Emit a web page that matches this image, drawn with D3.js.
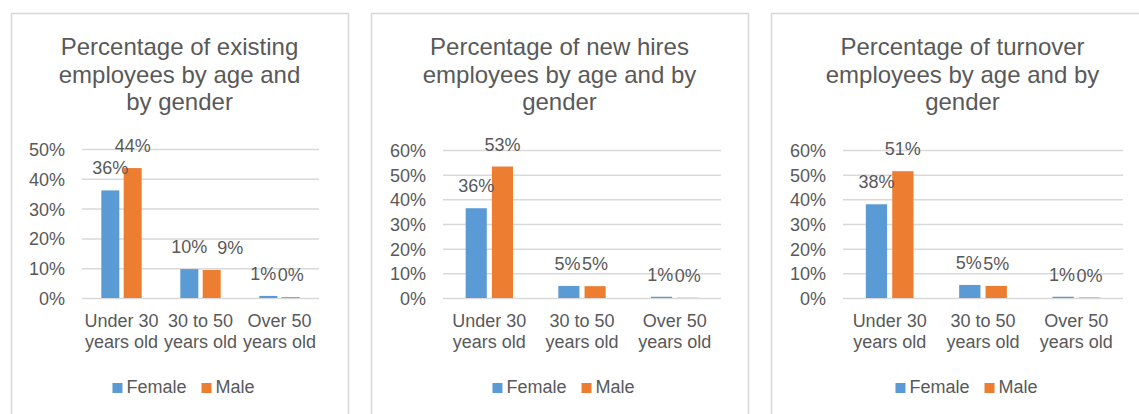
<!DOCTYPE html>
<html><head><meta charset="utf-8">
<script src="https://cdn.jsdelivr.net/npm/d3@7"></script>
<style>body{margin:0;background:#fff}svg{display:block;font-family:"Liberation Sans",Arial,sans-serif}</style>
</head><body><svg id="c" width="1139" height="414"></svg>
<script>
// ---- data ----
const categories = ["Under 30 years old", "30 to 50 years old", "Over 50 years old"];
const seriesNames = ["Female", "Male"];
const existingFemale = [0.361, 0.097, 0.007];
const existingMale   = [0.436, 0.094, 0.003];
const newHiresFemale = [0.364, 0.049, 0.0051];
const newHiresMale   = [0.533, 0.048, 0.001];
const turnoverFemale = [0.380, 0.053, 0.0051];
const turnoverMale   = [0.514, 0.049, 0.002];
const titleExisting = ["Percentage of existing", "employees by age and", "by gender"];
const titleNewHires = ["Percentage of new hires", "employees by age and by", "gender"];
const titleTurnover = ["Percentage of turnover", "employees by age and by", "gender"];
const ticksExisting = [0, 0.1, 0.2, 0.3, 0.4, 0.5];
const ticksNewHires = [0, 0.1, 0.2, 0.3, 0.4, 0.5, 0.6];
const ticksTurnover = [0, 0.1, 0.2, 0.3, 0.4, 0.5, 0.6];

// ---- layout / style ----
const colors = ["#5b9bd5", "#ed7d31"];
const textColor = "#595959";
const gridColor = "#d9d9d9";
const fmt = d3.format(".0%");
const svg = d3.select("#c");

const charts = [
  {title: titleExisting, female: existingFemale, male: existingMale, ticks: ticksExisting,
   box: [11, 348], plot: [82, 319], top: 149},
  {title: titleNewHires, female: newHiresFemale, male: newHiresMale, ticks: ticksNewHires,
   box: [371, 748], plot: [443, 721], top: 150},
  {title: titleTurnover, female: turnoverFemale, male: turnoverMale, ticks: ticksTurnover,
   box: [771, 1154], plot: [843, 1123], top: 150}
];
const boxTop = 13, plotBottom = 298;

charts.forEach(ch => {
  const g = svg.append("g");
  const cx = (ch.box[0] + ch.box[1]) / 2;
  // panel border
  g.append("rect").attr("x", ch.box[0] + 0.5).attr("y", boxTop + 0.5)
    .attr("width", ch.box[1] - ch.box[0]).attr("height", 450)
    .attr("fill", "none").attr("stroke", gridColor).attr("stroke-width", 1.6);
  // title
  const t = g.append("text").attr("text-anchor", "middle").attr("fill", textColor)
    .attr("font-size", 24);
  ch.title.forEach((line, i) => t.append("tspan").attr("x", cx).attr("y", boxTop + 42 + i * 27.5).text(line));

  const y = d3.scaleLinear().domain([0, d3.max(ch.ticks)]).range([plotBottom, ch.top]);
  const x0 = d3.scaleBand().domain(categories).range(ch.plot).padding(0);
  const bw = x0.bandwidth();
  const x1 = d3.scaleBand().domain(seriesNames).range([bw * 0.2445, bw * 0.7555]).paddingInner(0.194);

  // y axis with gridlines
  const ax = g.append("g").attr("transform", `translate(${ch.plot[0]},0)`)
    .call(d3.axisLeft(y).tickValues(ch.ticks).tickFormat(fmt)
      .tickSize(-(ch.plot[1] - ch.plot[0])).tickPadding(17));
  ax.select(".domain").remove();
  ax.selectAll(".tick line").attr("stroke", gridColor).attr("stroke-width", 1.5);
  ax.selectAll(".tick text").attr("fill", textColor).attr("font-size", 18)
    .attr("font-family", '"Liberation Sans",Arial,sans-serif').attr("dy", "0.36em");

  // bars
  const rows = categories.map((c, i) => ({cat: c, vals: [ch.female[i], ch.male[i]]}));
  const grp = g.selectAll(".grp").data(rows).enter().append("g")
    .attr("transform", d => `translate(${x0(d.cat)},0)`);
  grp.selectAll("rect").data(d => d.vals.map((v, j) => ({v, s: seriesNames[j], j})))
    .enter().append("rect")
    .attr("x", d => x1(d.s)).attr("width", x1.bandwidth())
    .attr("y", d => y(d.v)).attr("height", d => plotBottom - y(d.v))
    .attr("fill", d => colors[d.j]);

  // data labels with simple collision avoidance
  grp.each(function(d) {
    const gg = d3.select(this);
    const labels = d.vals.map((v, j) => gg.append("text")
      .attr("text-anchor", "middle").attr("fill", textColor).attr("font-size", 18)
      .attr("x", x1(seriesNames[j]) + x1.bandwidth() / 2)
      .attr("y", y(v) - 16).text(fmt(v)));
    const w0 = labels[0].node().getComputedTextLength();
    const w1 = labels[1].node().getComputedTextLength();
    const xa = +labels[0].attr("x"), xb = +labels[1].attr("x");
    const ya = +labels[0].attr("y"), yb = +labels[1].attr("y");
    if (Math.abs(ya - yb) < 16) {
      const overlap = (xa + w0 / 2) - (xb - w1 / 2);
      if (overlap > 4) labels[1].attr("x", xb + overlap + 10);
      else if (overlap > -1) labels[0].attr("x", xa - overlap - 1.5);
    }
  });

  // category labels
  const cl = g.append("g");
  categories.forEach(c => {
    const parts = c.split(/ (?=years)/);
    const tx = cl.append("text").attr("text-anchor", "middle").attr("fill", textColor).attr("font-size", 18);
    parts.forEach((p, i) => tx.append("tspan").attr("x", x0(c) + bw / 2).attr("y", 327 + i * 20.5).text(p));
  });

  // legend
  const lg = g.append("g");
  let lx = 0;
  seriesNames.forEach((s, j) => {
    lg.append("rect").attr("x", lx).attr("y", 383).attr("width", 10).attr("height", 10).attr("fill", colors[j]);
    const tt = lg.append("text").attr("x", lx + 14).attr("y", 393).attr("fill", textColor)
      .attr("font-size", 18).text(s);
    lx += 14 + tt.node().getComputedTextLength() + 15;
  });
  const lw = lx - 15;
  lg.attr("transform", `translate(${cx + 4 - lw / 2},0)`);
});
</script></body></html>
